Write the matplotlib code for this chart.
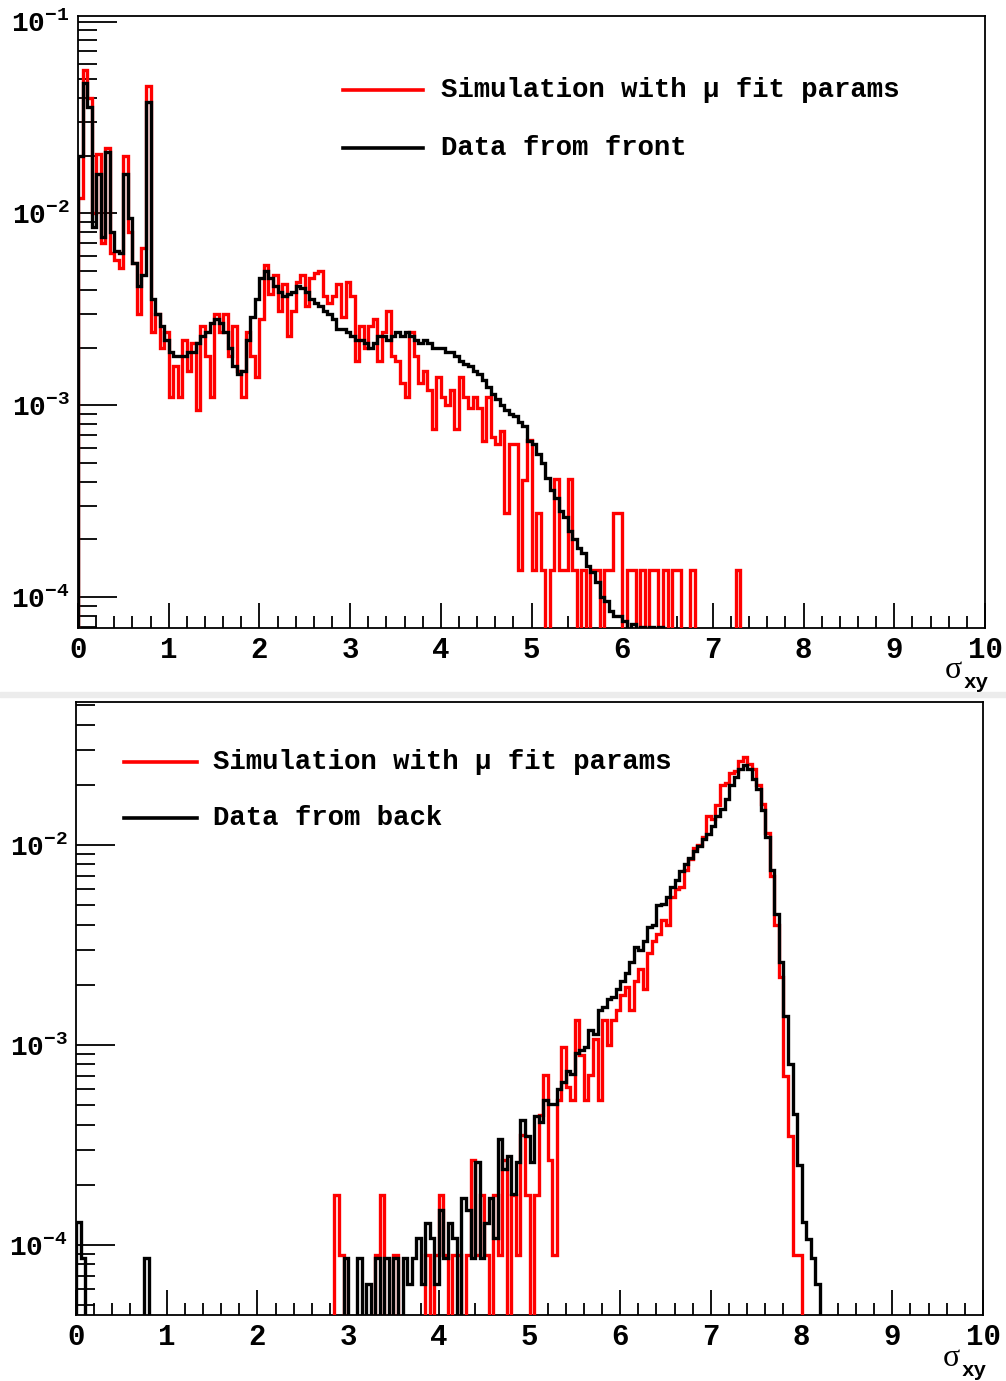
import numpy as np
import matplotlib.pyplot as plt
from matplotlib.lines import Line2D
from matplotlib.patches import Rectangle
from matplotlib.ticker import LogLocator, MultipleLocator, NullFormatter

plt.rcParams['mathtext.fontset'] = 'custom'
plt.rcParams['mathtext.rm'] = 'Liberation Mono:bold'
plt.rcParams['mathtext.bf'] = 'Liberation Mono:bold'
plt.rcParams['mathtext.it'] = 'Liberation Mono:bold'
MONO = 'Liberation Mono'

# histogram binning: 200 bins of 0.05 over sigma_xy 0..10
edges = np.linspace(0, 10, 201)

# ---- top panel (front), values in units of 1e-4 ----
front_data = [
    200, 480, 360, 85, 160, 75, 210, 80, 64, 62,
    160, 95, 55, 42, 48, 380, 36, 30, 26, 22,
    19, 18, 18, 18, 19, 19, 21, 23, 24, 27,
    28, 27, 24, 20, 16, 14.5, 15, 22, 29, 36,
    46, 50, 46, 42, 39, 37, 38, 39, 42, 41,
    39, 36, 34, 33, 31, 30, 28, 25, 25, 24,
    23, 22, 22, 21, 20, 21, 23, 23, 22, 23,
    24, 23, 24, 23, 22, 21, 22, 21, 20, 20,
    20, 19, 19, 18, 17, 16.5, 16, 15, 14.5, 13.5,
    12.5, 11.5, 10.8, 10, 9.5, 9.0, 8.8, 8.2, 7.8, 6.5,
    6.3, 5.6, 5.0, 4.2, 3.6, 3.3, 2.8, 2.6, 2.2, 2.0,
    1.8, 1.7, 1.45, 1.35, 1.2, 1.0, 0.95, 0.85, 0.8, 0.8,
    0.75, 0.65, 0.72, 0.6, 0.7, 0.5, 0.7, 0.4, 0.7, 0.3,
    0.5,
]
front_sim = [
    120, 560, 400, 100, 205, 70, 220, 62, 57, 52,
    200, 80, 55, 30, 66, 460, 24, 30, 20, 24,
    11, 16, 11, 22, 15, 21, 9.5, 26, 18, 11,
    30, 24, 30, 18, 26, 15, 11, 24, 18, 14,
    28, 54, 38, 48, 31, 43, 23, 31, 44, 48,
    33, 46, 49, 50, 37, 34, 37, 43, 29, 44,
    37, 17, 26, 20, 26, 28, 17, 24, 31, 18,
    17, 13, 11, 24, 18, 13, 15, 12, 7.5, 14,
    11, 10, 12, 7.5, 14, 11, 9.7, 11, 9.7, 6.5,
    11, 6.8, 6.3, 7.3, 2.76, 6.3, 6.3, 1.38, 4.1, 6.6,
    1.38, 2.76, 1.38, 0, 1.38, 4.14, 1.38, 1.38, 4.14, 1.38,
    0, 1.38, 0, 1.38, 1.38, 0, 1.38, 1.38, 2.76, 2.76,
    0, 1.38, 1.38, 0, 1.38, 0, 1.38, 1.38, 0, 1.38,
    0, 1.38, 1.38, 0, 0, 1.38, 0, 0, 0, 0,
    0, 0, 0, 0, 0, 1.38,
]

# ---- bottom panel (back), values in units of 1e-4 ----
back_data_low = {0: 1.3, 1: 0.86, 15: 0.86}
back_start = 57  # first bin of the main distribution (sigma 2.85)
back_data = [
    0, 0.2, 0.86, 0.43, 0.3, 0.86, 0.2, 0.64, 0.43, 0.86,
    0.43, 0.86, 0.2, 0.86, 0.43, 0.86, 0.64, 0.86, 1.08, 0.64,
    1.29, 1.08, 0.64, 1.5, 0.86, 1.29, 1.08, 0.43, 1.72, 1.5,
    0.86, 2.6, 0.86, 1.29, 1.72, 1.08, 3.4, 2.4, 2.8, 1.8,
    2.6, 4.2, 3.5, 2.6, 4.4, 4.1, 5.3, 5.1, 5.1, 6.0,
    6.5, 7.4, 7.2, 9.1, 9.4, 9.8, 11.9, 11.3, 15, 15.5,
    17, 17.4, 19, 21, 23, 26, 31, 30, 33, 39,
    40, 50, 51, 55, 62, 67, 74, 80, 86, 93,
    99, 107, 114, 125, 140, 151, 170, 200, 218, 240,
    250, 240, 215, 190, 150, 110, 75, 45, 26, 14,
    8, 4.5, 2.5, 1.3, 1.07, 0.86, 0.64,
]
back_sim = [
    1.78, 0.89, 0, 0, 0, 0, 0, 0, 0, 0.89,
    1.78, 0, 0, 0.89, 0, 0, 0, 0, 0, 0,
    0.89, 0, 0.89, 1.78, 0.89, 0, 0.89, 0.89, 0, 0.89,
    2.67, 0.89, 1.78, 0.89, 0, 1.78, 0.89, 2.67, 0, 1.78,
    0.89, 3.56, 1.78, 0, 1.78, 4.45, 7.1, 2.67, 0.89, 5.3,
    9.8, 6.2, 5.3, 13.3, 8.9, 5.3, 7.1, 10.7, 5.3, 13.3,
    10, 13.3, 15, 17.8, 19.6, 15, 21, 24, 19, 29,
    33, 36, 42, 40, 55, 60, 62, 75, 85, 97,
    100, 110, 140, 135, 158, 200, 205, 230, 235, 262,
    275, 255, 240, 200, 160, 115, 70, 40, 22, 7,
    3.5, 0.89, 0.89,
]


def full(vals, start=0, extra=None):
    h = np.zeros(len(edges) - 1)
    h[start:start + len(vals)] = vals
    if extra:
        for k, v in extra.items():
            h[k] = v
    h = h * 1e-4
    return np.where(h > 0, h, 1e-9)


top_red = full(front_sim)
top_black = full(front_data)
bot_red = full(back_sim, back_start)
bot_black = full(back_data, back_start, back_data_low)

W, H = 1006, 1381
fig = plt.figure(figsize=(W / 100, H / 100), dpi=100)


def px_axes(l, t, r, b):
    return fig.add_axes([l / W, 1 - b / H, (r - l) / W, (b - t) / H])


def style(ax, ymin, ymax):
    ax.set_xlim(0, 10)
    ax.set_yscale('log')
    ax.set_ylim(ymin, ymax)
    ax.xaxis.set_major_locator(MultipleLocator(1))
    ax.xaxis.set_minor_locator(MultipleLocator(0.2))
    ax.yaxis.set_major_locator(LogLocator(base=10, numticks=10))
    ax.yaxis.set_minor_locator(LogLocator(base=10, subs=np.arange(2, 10), numticks=20))
    ax.yaxis.set_minor_formatter(NullFormatter())
    ax.yaxis.set_major_formatter(plt.FuncFormatter(
        lambda v, p: r'$\mathrm{10^{%d}}$' % int(round(np.log10(v)))))
    ax.tick_params(which='both', direction='in', top=False, right=False, width=1.3)
    ax.tick_params(axis='x', which='major', length=18, pad=6)
    ax.tick_params(axis='x', which='minor', length=9)
    ax.tick_params(axis='y', which='major', length=28, pad=6)
    ax.tick_params(axis='y', which='minor', length=14)
    for lab in ax.get_xticklabels():
        lab.set_fontfamily(MONO)
        lab.set_fontweight('bold')
        lab.set_fontsize(21)
    for lab in ax.get_yticklabels():
        lab.set_fontfamily(MONO)
        lab.set_fontweight('bold')
        lab.set_fontsize(20)
    for s in ax.spines.values():
        s.set_linewidth(1.3)


ax1 = px_axes(78, 16, 985, 628)
ax1.stairs(top_red, edges, color='#ff0000', lw=2.4, zorder=3)
ax1.stairs(top_black, edges, color='black', lw=2.4, zorder=4)
style(ax1, 6.9e-5, 0.107)

ax2 = px_axes(76, 702, 983, 1315)
ax2.stairs(bot_red, edges, color='#ff0000', lw=2.4, zorder=3)
ax2.stairs(bot_black, edges, color='black', lw=2.4, zorder=4)
style(ax2, 4.47e-5, 0.0519)


def fx(p):
    return p / W


def fy(p):
    return 1 - p / H


def legend(x1, x2, xt, ys, labels):
    for y, (c, t) in zip(ys, labels):
        fig.add_artist(Line2D([fx(x1), fx(x2)], [fy(y), fy(y)], color=c, lw=2.6,
                              transform=fig.transFigure))
        fig.text(fx(xt), fy(y), t, fontfamily=MONO, fontweight='bold', fontsize=19.7,
                 va='center', ha='left')


legend(343, 423, 441, [90, 148], [('#ff0000', 'Simulation with \u03bc fit params'),
                                  ('black', 'Data from front')])
legend(124, 197, 213, [762, 818], [('#ff0000', 'Simulation with \u03bc fit params'),
                                   ('black', 'Data from back')])

# axis titles sigma_xy
for sx, sy in [(953, 670), (951, 1358)]:
    fig.text(fx(sx), fy(sy), '\u03c3', fontfamily='Liberation Serif', fontsize=23,
             ha='center', va='center')
    fig.text(fx(sx + 10), fy(sy + 13), 'xy', fontfamily=MONO, fontweight='bold',
             fontsize=15, ha='left', va='center')

# light separator between the two panels
fig.add_artist(Rectangle((0, fy(697)), 1, 5 / H, color='#ececec',
                         transform=fig.transFigure, zorder=0))

fig.savefig('out.png', dpi=100)
